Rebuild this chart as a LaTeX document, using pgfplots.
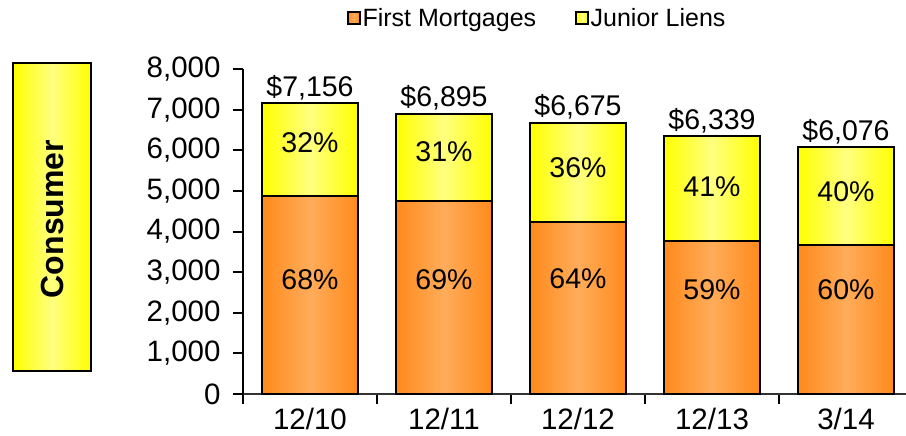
\documentclass[border=0pt]{standalone}
\usepackage{pgfplots}
\pgfplotsset{compat=1.18}
\usepackage{fontspec}
\setmainfont{Liberation Sans}
\definecolor{orD}{HTML}{FF8A1C}
\definecolor{orL}{HTML}{FFAC5A}
\definecolor{yeD}{HTML}{FFFF00}
\definecolor{yeL}{HTML}{FFFF80}
\begin{document}
\begin{tikzpicture}
\useasboundingbox (0bp,0bp) rectangle (906bp,436bp);
\draw[line width=2.5bp, left color=yeD, right color=yeD, middle color=yeL] (13bp,65bp) rectangle (91bp,373bp);
\node[rotate=90, font=\fontsize{32bp}{38bp}\selectfont\bfseries] at (52bp,217bp) {Consumer};
\begin{axis}[
  at={(243bp,42bp)}, anchor=south west,
  scale only axis, width=670bp, height=325bp,
  xmin=-0.5, xmax=4.5, ymin=0, ymax=8000,
  ybar, bar width=96bp, bar shift=0pt,
  axis x line*=bottom, axis y line*=left,
  x axis line style={line width=2bp, draw=black!80},
  y axis line style={line width=2bp},
  tick align=outside,
  xtick={0,1,2,3,4},
  xticklabels={12/10,12/11,12/12,12/13,3/14},
  minor xtick={-0.5,0.5,1.5,2.5,3.5,4.5},
  major x tick style={draw=none},
  minor x tick style={line width=2bp, black},
  minor tick length=10bp,
  ytick={0,1000,...,8000},
  major y tick style={line width=2bp, black},
  major tick length=10bp,
  /pgf/number format/assume math mode=true,
  /pgf/number format/1000 sep={,},
  scaled y ticks=false,
  tick label style={font=\fontsize{29.5bp}{35bp}\selectfont},
  yticklabel style={xshift=-9bp},
  xticklabel style={inner sep=1bp, yshift=-3bp},
  legend style={at={(0.155,1.157)}, anchor=west, draw=none, fill=none,
    inner sep=0pt, legend columns=2,
    font=\fontsize{25bp}{30bp}\selectfont,
    /tikz/every even column/.append style={column sep=37bp}},
  legend image code/.code={\draw[#1,line width=1.5bp] (0bp,-6bp) rectangle (12bp,6bp);},
  clip=false,
  ye/.style={forget plot, draw=black, line width=2bp, left color=yeD, right color=yeD, middle color=yeL},
  or/.style={forget plot, draw=black, line width=2bp, left color=orD, right color=orD, middle color=orL},
]
\addlegendimage{draw=black, left color=orD, right color=orD, middle color=orL}
\addlegendentry{First Mortgages}
\addlegendimage{draw=black, left color=yeD, right color=yeD, middle color=yeL}
\addlegendentry{Junior Liens}
% totals (First Mortgages + Junior Liens)
\addplot[ye] coordinates {(0,7156)};
\addplot[ye] coordinates {(1,6895)};
\addplot[ye] coordinates {(2,6675)};
\addplot[ye] coordinates {(3,6339)};
\addplot[ye] coordinates {(4,6076)};
% First Mortgages
\addplot[or] coordinates {(0,4880)};
\addplot[or] coordinates {(1,4750)};
\addplot[or] coordinates {(2,4240)};
\addplot[or] coordinates {(3,3770)};
\addplot[or] coordinates {(4,3660)};
\coordinate (t0) at (axis cs:0,7156);
\coordinate (t1) at (axis cs:1,6895);
\coordinate (t2) at (axis cs:2,6675);
\coordinate (t3) at (axis cs:3,6339);
\coordinate (t4) at (axis cs:4,6076);
\coordinate (j0) at (axis cs:0,6182);
\coordinate (j1) at (axis cs:1,5960);
\coordinate (j2) at (axis cs:2,5567);
\coordinate (j3) at (axis cs:3,5099);
\coordinate (j4) at (axis cs:4,4975);
\coordinate (f0) at (axis cs:0,2808);
\coordinate (f1) at (axis cs:1,2808);
\coordinate (f2) at (axis cs:2,2830);
\coordinate (f3) at (axis cs:3,2562);
\coordinate (f4) at (axis cs:4,2562);
\end{axis}
\begin{scope}[every node/.style={font=\fontsize{28.5bp}{34bp}\selectfont}]
\node[anchor=south] at (t0) {\$7,156};
\node[anchor=south] at (t1) {\$6,895};
\node[anchor=south] at (t2) {\$6,675};
\node[anchor=south] at (t3) {\$6,339};
\node[anchor=south] at (t4) {\$6,076};
\node at (j0) {32\%};
\node at (j1) {31\%};
\node at (j2) {36\%};
\node at (j3) {41\%};
\node at (j4) {40\%};
\node at (f0) {68\%};
\node at (f1) {69\%};
\node at (f2) {64\%};
\node at (f3) {59\%};
\node at (f4) {60\%};
\end{scope}
\end{tikzpicture}
\end{document}
